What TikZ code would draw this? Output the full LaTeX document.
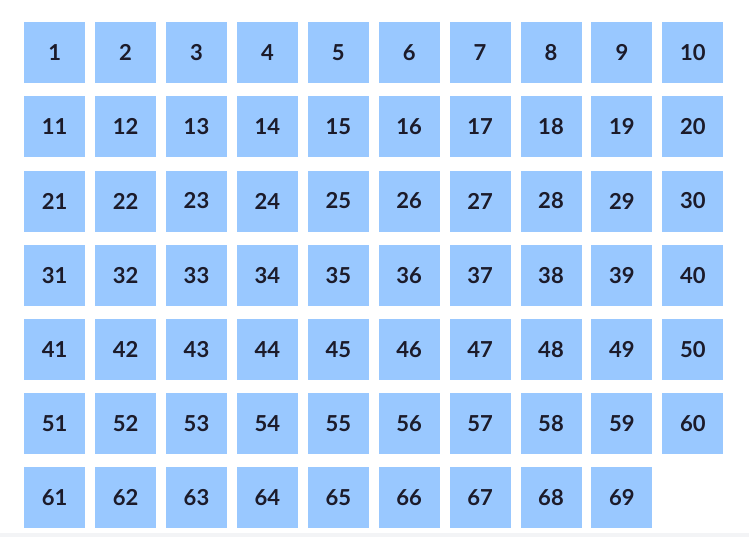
\documentclass[tikz,border=0pt]{standalone}
\usepackage{fontspec}
\setmainfont{Lato}
\definecolor{cellblue}{HTML}{99C8FF}
\definecolor{celltext}{HTML}{1C1B2A}
\definecolor{stripgray}{HTML}{F3F4F6}
\begin{document}
\begin{tikzpicture}[x=1pt,y=-1pt,
  cell/.style={fill=cellblue,draw=none,minimum width=61pt,minimum height=61pt,inner sep=0pt,anchor=north west,
    text=celltext,font=\fontsize{22}{26}\selectfont\bfseries}]
\useasboundingbox (0,0) rectangle (749,552);
\fill[white] (0,0) rectangle (749,552);
\fill[stripgray] (0,533) rectangle (749,537);
\foreach \n in {1,...,69}{
  \pgfmathtruncatemacro{\r}{int((\n-1)/10)}
  \pgfmathtruncatemacro{\c}{mod(\n-1,10)}
  \node[cell] (c\n) at ({24+70.9*\c},{22+74.17*\r}) {\n};
}
\end{tikzpicture}
\end{document}
